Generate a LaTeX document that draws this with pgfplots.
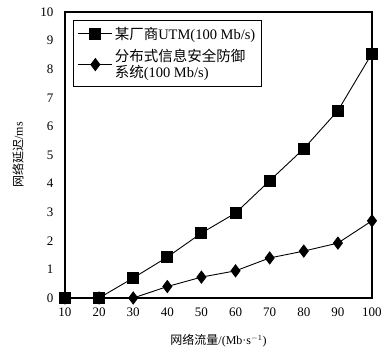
\documentclass[border=0pt]{standalone}
\usepackage{pgfplots}
\pgfplotsset{compat=1.18}
\usepackage{fontspec}
\setmainfont{Liberation Serif}
\newfontfamily\cjk{Noto Sans CJK SC}
\begin{document}
\begin{tikzpicture}
\path[use as bounding box] (-65pt,-55pt) rectangle (327pt,298pt);
\begin{axis}[
  scale only axis, width=307pt, height=286pt,
  xmin=10, xmax=100, ymin=0, ymax=10,
  xtick={10,20,...,100}, ytick={0,1,...,10},
  major tick length=0pt,
  axis line style={line width=1.1pt},
  /pgf/number format/assume math mode=true,
  tick label style={font=\fontsize{13}{15}\selectfont},
  xticklabel style={yshift=-6pt},
  yticklabel style={xshift=-8pt},
  xlabel={\cjk 网络流量\rmfamily/(Mb·s$^{-1}$)},
  ylabel={\cjk 网络延迟\rmfamily/ms},
  every axis x label/.style={font=\fontsize{12}{14}\selectfont, at={(axis description cs:0.5,0)}, anchor=center, yshift=-43pt},
  every axis y label/.style={font=\fontsize{12}{14}\selectfont, at={(axis description cs:-0.153,0.5)}, rotate=90, anchor=center},
  legend style={at={(0.026,0.972)}, anchor=north west, draw=black, line width=0.8pt,
    font=\fontsize{14.5}{16}\selectfont, cells={align=left, anchor=west}, inner sep=4.5pt, row sep=5pt},
  legend cell align=left,
  legend image code/.code={\draw[mark repeat=2,mark phase=2] plot coordinates {(0pt,0pt) (17pt,0pt) (34pt,0pt)};},
  clip=false,
]
\addplot[black, line width=0.9pt, mark=square*, mark size=5.5pt, mark options={solid}] coordinates {
(10,0) (20,0) (30,0.7) (40,1.43) (50,2.27) (60,2.97) (70,4.1) (80,5.22) (90,6.55) (100,8.55)};
\addlegendentry{{\cjk 某厂商}UTM(100 Mb/s)}
\addplot[black, line width=0.9pt, mark=diamond*, mark size=6pt, mark options={solid}] coordinates {
(10,0) (20,0) (30,0) (40,0.4) (50,0.73) (60,0.95) (70,1.4) (80,1.64) (90,1.92) (100,2.7)};
\addlegendentry{{\cjk 分布式信息安全防御}\\{\cjk 系统}(100 Mb/s)}
\end{axis}
\end{tikzpicture}
\end{document}
